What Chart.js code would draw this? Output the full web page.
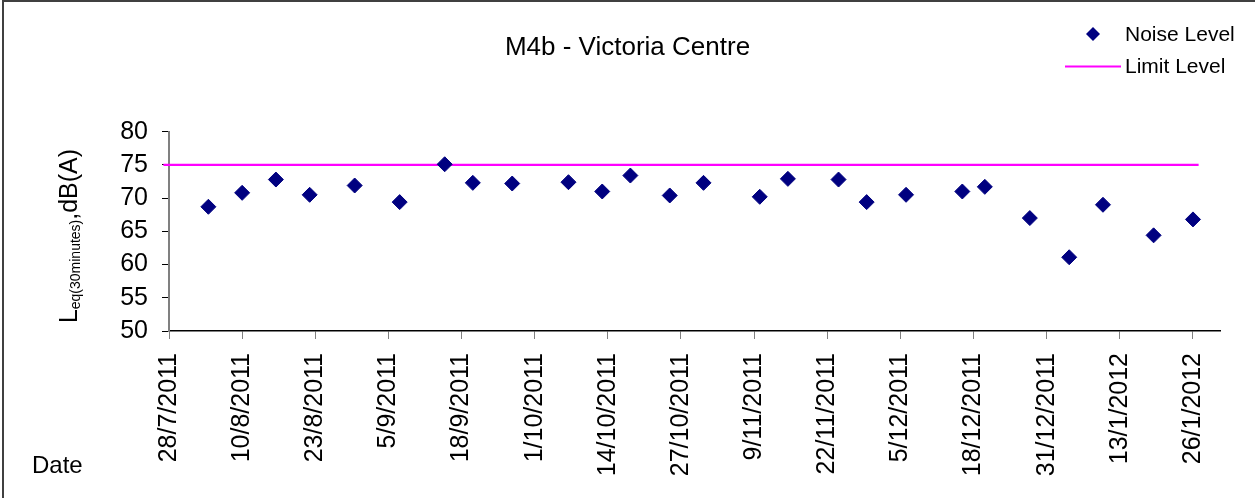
<!DOCTYPE html>
<html>
<head>
<meta charset="utf-8">
<title>M4b - Victoria Centre</title>
<script src="https://cdn.jsdelivr.net/npm/chart.js@4.4.1/dist/chart.umd.min.js"></script>
<style>
  html, body { margin: 0; padding: 0; background: #fff; }
  #wrap { width: 1255px; height: 498px; position: relative; }
</style>
</head>
<body>
<div id="wrap"><canvas id="noiseChart"></canvas></div>
<script>
// data
const startDate = '28/7/2011';
const noiseDates = ['4/8/2011','10/8/2011','16/8/2011','22/8/2011','30/8/2011','7/9/2011','15/9/2011',
  '20/9/2011','27/9/2011','7/10/2011','13/10/2011','18/10/2011','25/10/2011','31/10/2011','10/11/2011',
  '15/11/2011','24/11/2011','29/11/2011','6/12/2011','16/12/2011','20/12/2011','28/12/2011','4/1/2012',
  '10/1/2012','19/1/2012','26/1/2012'];
const noiseValues = [68.7, 70.8, 72.8, 70.5, 71.9, 69.4, 75.1, 72.3, 72.2, 72.4, 71.0, 73.4, 70.4,
  72.3, 70.2, 72.9, 72.8, 69.4, 70.5, 71.0, 71.7, 67.0, 61.1, 69.0, 64.4, 66.8];
const limitDates = ['27/7/2011', '27/1/2012'];
const limitValues = [75, 75];
const xTickLabels = ['28/7/2011','10/8/2011','23/8/2011','5/9/2011','18/9/2011','1/10/2011',
  '14/10/2011','27/10/2011','9/11/2011','22/11/2011','5/12/2011','18/12/2011','31/12/2011',
  '13/1/2012','26/1/2012'];
const yTicks = [50, 55, 60, 65, 70, 75, 80];

const FONT = "'Liberation Sans', Arial, sans-serif";

// days since the first date on the axis
function toDay(s){
  const p = s.split('/').map(Number);
  const b = startDate.split('/').map(Number);
  return (Date.UTC(p[2], p[1]-1, p[0]) - Date.UTC(b[2], b[1]-1, b[0])) / 864e5;
}
const tickDays = xTickLabels.map(toDay);

// extra texts: y title with subscript, "Date", legend, frame
const extras = {
  id: 'extras',
  afterDraw(chart){
    const ctx = chart.ctx;
    ctx.save();
    // frame (top and left edge)
    ctx.strokeStyle = '#404040';
    ctx.lineWidth = 2;
    ctx.beginPath();
    ctx.moveTo(3, 498); ctx.lineTo(3, 1); ctx.lineTo(1255, 1);
    ctx.stroke();

    ctx.fillStyle = '#000';
    ctx.textBaseline = 'alphabetic';
    // y axis title L eq(30minutes) ,dB(A)
    const big = '25px ' + FONT, small = '14px ' + FONT;
    ctx.font = big; const wL = ctx.measureText('L').width; const wT = ctx.measureText(',dB(A)').width;
    ctx.font = small; const wS = ctx.measureText('eq(30minutes)').width;
    const total = wL + wS + wT;
    ctx.translate(77, 236 + total / 2);
    ctx.rotate(-Math.PI / 2);
    ctx.textAlign = 'left';
    ctx.font = big; ctx.fillText('L', 0, 0);
    ctx.font = small; ctx.fillText('eq(30minutes)', wL, 3);
    ctx.font = big; ctx.fillText(',dB(A)', wL + wS, 0);
    ctx.setTransform(chart.currentDevicePixelRatio, 0, 0, chart.currentDevicePixelRatio, 0, 0);

    // x axis title
    ctx.font = '24px ' + FONT;
    ctx.textBaseline = 'middle';
    ctx.fillText('Date', 32, 466);

    // legend
    const ds = chart.data.datasets;
    ctx.font = '21px ' + FONT;
    ctx.fillStyle = ds[0].backgroundColor;
    ctx.beginPath();
    ctx.moveTo(1093, 27); ctx.lineTo(1100, 34); ctx.lineTo(1093, 41); ctx.lineTo(1086, 34);
    ctx.closePath(); ctx.fill();
    ctx.strokeStyle = ds[1].borderColor;
    ctx.lineWidth = 2;
    ctx.beginPath(); ctx.moveTo(1065, 66.5); ctx.lineTo(1121, 66.5); ctx.stroke();
    ctx.fillStyle = '#000';
    ctx.fillText(ds[0].label, 1125, 35);
    ctx.fillText(ds[1].label, 1125, 67);
    ctx.restore();
  }
};

new Chart(document.getElementById('noiseChart'), {
  type: 'scatter',
  data: {
    datasets: [{
      label: 'Noise Level',
      data: noiseDates.map((d, i) => ({x: toDay(d), y: noiseValues[i]})),
      pointStyle: 'rectRot',
      pointRadius: 7.5,
      pointHoverRadius: 7.5,
      backgroundColor: '#000080',
      borderColor: '#000080',
      borderWidth: 1,
      order: 1
    }, {
      label: 'Limit Level',
      type: 'line',
      data: limitDates.map((d, i) => ({x: toDay(d), y: limitValues[i]})),
      borderColor: '#FF00FF',
      borderWidth: 2.2,
      pointRadius: 0,
      fill: false,
      clip: false,
      order: 2
    }]
  },
  options: {
    responsive: true,
    maintainAspectRatio: false,
    animation: false,
    events: [],
    layout: { padding: { left: 35, right: 35, top: 0, bottom: 0 } },
    plugins: {
      legend: { display: false },
      tooltip: { enabled: false },
      title: {
        display: true,
        text: 'M4b - Victoria Centre',
        color: '#000',
        font: { family: FONT, size: 26, weight: 'normal' },
        padding: { top: 32, bottom: 68.5 }
      }
    },
    scales: {
      x: {
        type: 'linear',
        min: 0,
        max: 186.8,
        afterFit(scale){ scale.height = 167; },
        afterBuildTicks(scale){ scale.ticks = tickDays.map(v => ({value: v})); },
        ticks: {
          minRotation: 90, maxRotation: 90,
          padding: 14,
          color: '#000',
          font: { family: FONT, size: 25 },
          callback(v){ const i = tickDays.indexOf(v); return i >= 0 ? xTickLabels[i] : ''; }
        },
        grid: { drawOnChartArea: false, drawTicks: true, tickLength: 8, color: '#808080' },
        border: { color: '#000', width: 1.5 }
      },
      y: {
        min: 50,
        max: 80,
        afterFit(scale){ scale.width = 134; },
        afterBuildTicks(scale){ scale.ticks = yTicks.map(v => ({value: v})); },
        ticks: {
          padding: 14,
          color: '#000',
          font: { family: FONT, size: 25 }
        },
        grid: { drawOnChartArea: false, drawTicks: true, tickLength: 7, color: '#000' },
        border: { color: '#808080', width: 2 }
      }
    }
  },
  plugins: [extras]
});
</script>
</body>
</html>
